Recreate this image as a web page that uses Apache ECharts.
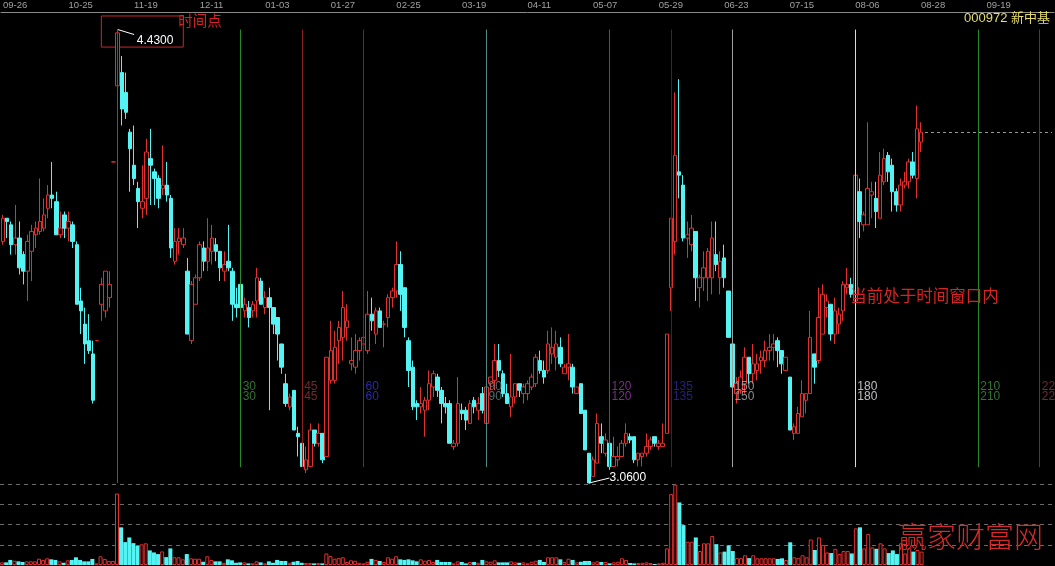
<!DOCTYPE html>
<html>
<head>
<meta charset="utf-8">
<script src="https://cdn.jsdelivr.net/npm/echarts@6/dist/echarts.min.js"></script>
<style>
html,body{margin:0;padding:0;background:#000;}
#chart{width:1055px;height:566px;}
</style>
</head>
<body>
<div id="chart"></div>
<script>
// ---------- DATA ----------
const dateTicks = ['09-26','10-25','11-19','12-11','01-03','01-27','02-25','03-19','04-11','05-07','05-29','06-23','07-15','08-06','08-28','09-19'];
const tickEvery = 16;
const slotCount = 257;

// [open, close, low, high]
const candles = [
[3.79,3.86,3.78,3.87],[3.86,3.85,3.80,3.86],[3.84,3.78,3.75,3.85],[3.78,3.80,3.75,3.90],[3.80,3.71,3.69,3.85],
[3.75,3.70,3.66,3.76],[3.70,3.79,3.61,3.81],[3.76,3.82,3.67,3.84],[3.81,3.83,3.77,3.85],[3.82,3.85,3.81,3.98],
[3.83,3.87,3.82,3.92],[3.89,3.93,3.86,3.96],[3.93,3.92,3.89,4.03],[3.91,3.81,3.81,3.94],[3.81,3.83,3.80,3.88],
[3.87,3.83,3.80,3.88],[3.83,3.85,3.79,3.88],[3.84,3.79,3.77,3.85],[3.78,3.60,3.60,3.79],[3.61,3.58,3.51,3.65],
[3.54,3.48,3.42,3.59],[3.49,3.46,3.45,3.57],[3.45,3.31,3.30,3.49],[3.49,3.49,3.49,3.49],[3.60,3.66,3.55,3.68],
[3.58,3.70,3.56,3.70],[3.62,3.66,3.59,3.70],[4.03,4.03,4.03,4.03],[4.26,4.42,4.26,4.43],[4.30,4.19,4.14,4.35],
[4.24,4.18,4.16,4.30],[4.12,4.07,3.94,4.13],[4.02,3.98,3.96,4.14],[3.95,3.91,3.83,3.97],[3.89,3.91,3.86,4.02],
[3.92,4.06,3.87,4.10],[4.04,4.02,3.90,4.13],[4.00,3.98,3.90,4.01],[3.98,3.92,3.89,3.99],[3.95,3.96,3.93,4.08],
[3.96,3.93,3.91,4.03],[3.92,3.77,3.74,3.93],[3.73,3.79,3.72,3.83],[3.79,3.80,3.75,3.83],[3.78,3.80,3.77,3.83],
[3.70,3.51,3.51,3.74],[3.49,3.66,3.48,3.67],[3.60,3.68,3.60,3.69],[3.68,3.78,3.67,3.79],[3.77,3.73,3.70,3.79],
[3.73,3.77,3.70,3.86],[3.76,3.80,3.72,3.84],[3.78,3.76,3.73,3.80],[3.76,3.71,3.67,3.76],[3.70,3.72,3.67,3.76],
[3.73,3.71,3.70,3.84],[3.70,3.60,3.55,3.71],[3.60,3.59,3.56,3.65],[3.66,3.59,3.56,3.67],[3.58,3.60,3.56,3.62],
[3.59,3.56,3.53,3.61],[3.58,3.60,3.56,3.61],[3.61,3.68,3.56,3.71],[3.67,3.60,3.60,3.68],[3.59,3.62,3.57,3.64],
[3.62,3.59,3.28,3.65],[3.59,3.54,3.51,3.59],[3.56,3.51,3.43,3.56],[3.48,3.41,3.39,3.48],[3.36,3.30,3.29,3.39],
[3.29,3.32,3.28,3.33],[3.34,3.22,3.22,3.34],[3.21,3.20,3.14,3.23],[3.18,3.11,3.11,3.18],[3.10,3.13,3.09,3.17],
[3.11,3.22,3.11,3.24],[3.22,3.18,3.17,3.22],[3.18,3.21,3.17,3.24],[3.21,3.13,3.12,3.21],[3.14,3.44,3.14,3.44],
[3.37,3.46,3.36,3.55],[3.37,3.47,3.36,3.52],[3.49,3.53,3.42,3.55],[3.50,3.59,3.43,3.64],[3.53,3.55,3.49,3.60],
[3.42,3.43,3.40,3.50],[3.41,3.46,3.39,3.51],[3.46,3.49,3.43,3.50],[3.48,3.50,3.43,3.51],[3.46,3.57,3.45,3.64],
[3.57,3.55,3.52,3.62],[3.51,3.58,3.48,3.59],[3.58,3.53,3.53,3.59],[3.54,3.54,3.47,3.55],[3.56,3.62,3.53,3.63],
[3.62,3.64,3.59,3.65],[3.64,3.72,3.62,3.79],[3.72,3.63,3.58,3.76],[3.65,3.53,3.50,3.65],[3.49,3.40,3.35,3.50],
[3.41,3.29,3.28,3.43],[3.30,3.29,3.25,3.31],[3.29,3.30,3.27,3.35],[3.28,3.31,3.20,3.32],[3.31,3.36,3.28,3.40],
[3.35,3.39,3.32,3.40],[3.38,3.34,3.32,3.39],[3.34,3.30,3.24,3.35],[3.30,3.29,3.27,3.32],[3.30,3.18,3.18,3.31],
[3.17,3.18,3.16,3.19],[3.18,3.30,3.17,3.38],[3.28,3.27,3.25,3.30],[3.28,3.25,3.22,3.29],[3.24,3.30,3.24,3.31],
[3.31,3.29,3.27,3.32],[3.28,3.30,3.25,3.32],[3.33,3.28,3.27,3.35],[3.24,3.35,3.24,3.35],[3.36,3.38,3.34,3.38],
[3.37,3.43,3.34,3.48],[3.43,3.40,3.38,3.48],[3.39,3.33,3.32,3.40],[3.33,3.30,3.30,3.36],[3.29,3.32,3.26,3.45],
[3.32,3.36,3.30,3.36],[3.36,3.34,3.32,3.36],[3.33,3.35,3.30,3.36],[3.33,3.36,3.31,3.37],[3.35,3.38,3.34,3.39],
[3.36,3.44,3.35,3.45],[3.43,3.40,3.39,3.46],[3.40,3.38,3.36,3.43],[3.40,3.48,3.39,3.52],[3.45,3.47,3.42,3.53],
[3.44,3.48,3.40,3.52],[3.47,3.42,3.41,3.50],[3.39,3.41,3.39,3.42],[3.41,3.42,3.37,3.51],[3.41,3.35,3.33,3.42],
[3.33,3.35,3.33,3.35],[3.36,3.27,3.27,3.36],[3.28,3.16,3.16,3.28],[3.15,3.06,3.06,3.15],[3.08,3.13,3.08,3.14],
[3.12,3.24,3.12,3.27],[3.20,3.18,3.15,3.24],[3.15,3.19,3.14,3.21],[3.18,3.11,3.10,3.18],[3.11,3.14,3.11,3.20],
[3.13,3.14,3.11,3.17],[3.14,3.18,3.14,3.19],[3.18,3.21,3.17,3.24],[3.20,3.19,3.18,3.21],[3.20,3.13,3.12,3.20],
[3.13,3.15,3.11,3.15],[3.14,3.15,3.11,3.15],[3.15,3.17,3.14,3.21],[3.17,3.19,3.16,3.20],[3.20,3.18,3.17,3.20],
[3.17,3.18,3.16,3.19],[3.17,3.18,3.17,3.24],[3.21,3.51,3.21,3.51],[3.65,3.86,3.58,3.86],[3.79,4.05,3.75,4.24],
[4.00,3.99,3.92,4.28],[3.96,3.80,3.79,3.99],[3.80,3.81,3.74,3.85],[3.78,3.83,3.76,3.87],[3.82,3.68,3.61,3.82],
[3.65,3.68,3.59,3.69],[3.68,3.71,3.64,3.76],[3.68,3.76,3.61,3.77],[3.68,3.80,3.63,3.85],[3.75,3.72,3.70,3.85],
[3.68,3.73,3.63,3.76],[3.74,3.68,3.65,3.78],[3.64,3.50,3.50,3.64],[3.48,3.35,3.30,3.50],[3.33,3.36,3.30,3.38],
[3.34,3.38,3.33,3.40],[3.36,3.44,3.33,3.47],[3.44,3.39,3.36,3.44],[3.39,3.42,3.36,3.48],[3.40,3.42,3.37,3.45],
[3.43,3.44,3.39,3.46],[3.43,3.46,3.41,3.49],[3.46,3.47,3.43,3.51],[3.47,3.48,3.43,3.51],[3.49,3.46,3.41,3.50],
[3.46,3.42,3.39,3.46],[3.40,3.44,3.40,3.44],[3.38,3.22,3.22,3.38],[3.21,3.23,3.19,3.24],[3.21,3.27,3.21,3.29],
[3.26,3.33,3.26,3.37],[3.31,3.33,3.27,3.33],[3.33,3.50,3.33,3.58],[3.45,3.41,3.36,3.45],[3.43,3.56,3.42,3.65],
[3.51,3.63,3.51,3.66],[3.59,3.61,3.56,3.63],[3.60,3.51,3.49,3.60],[3.51,3.58,3.48,3.62],[3.54,3.57,3.51,3.59],
[3.58,3.66,3.55,3.67],[3.65,3.66,3.63,3.71],[3.66,3.63,3.62,3.68],[3.61,3.99,3.59,3.99],[3.94,3.85,3.80,3.98],
[3.84,3.87,3.82,3.88],[3.84,3.95,3.84,4.15],[3.93,3.94,3.86,3.97],[3.92,3.88,3.83,3.97],[3.86,3.99,3.86,4.06],
[3.97,4.04,3.96,4.07],[4.05,4.00,3.97,4.06],[4.02,3.94,3.88,4.04],[3.94,3.90,3.88,3.95],[3.90,3.96,3.88,3.98],
[3.96,3.97,3.95,4.00],[3.97,4.03,3.95,4.04],[4.03,3.99,3.98,4.06],[3.98,4.13,3.92,4.20],[4.09,4.12,4.06,4.15]
];

const volumes = [
1.3,1.3,2.5,2.1,1.8,1.5,1.8,1.8,1.8,3.1,2.5,3.3,2.8,2.5,1.8,1.1,2.3,2.5,3.8,2.5,
1.8,1.8,3.0,0.8,4.3,3.0,2.0,2.0,35.3,18.6,11.3,13.6,10.8,9.4,10.2,10.7,7.2,6.2,5.4,6.7,
3.9,8.2,3.8,3.8,2.8,5.4,3.3,3.1,3.1,1.6,4.3,2.5,1.8,1.8,1.1,2.8,2.3,1.1,1.3,1.3,
0.8,0.8,1.8,1.3,0.8,1.8,1.1,2.5,2.0,2.0,1.1,1.6,2.0,1.1,1.0,1.0,0.8,1.0,0.8,5.7,
4.4,3.1,3.4,3.8,1.5,2.3,2.1,1.1,0.8,1.6,3.0,2.5,2.0,1.5,3.8,3.1,4.3,2.8,2.5,2.8,
2.3,1.8,2.8,2.1,2.5,1.5,2.5,1.5,1.5,1.5,0.8,1.8,1.5,0.8,1.5,1.5,1.1,2.5,1.8,1.6,
2.3,1.3,1.3,1.3,1.8,1.3,1.1,1.3,0.8,1.6,2.1,2.5,1.5,3.8,3.8,3.8,2.8,1.5,3.1,2.5,
1.3,1.6,2.0,2.0,1.3,1.8,1.5,1.5,0.8,1.3,1.6,3.3,2.5,1.0,0.8,1.0,1.1,1.3,1.0,0.5,
0.8,1.1,8.2,35.0,39.7,30.9,19.7,11.5,11.5,13.6,6.9,10.7,10.7,14.3,10.3,6.2,6.6,9.7,6.9,3.4,
3.4,4.8,3.4,4.8,3.3,3.3,3.3,3.3,3.3,3.0,3.3,2.5,11.2,3.8,3.4,4.8,3.8,12.6,7.4,13.6,
9.9,6.2,5.9,8.0,5.4,6.9,6.9,5.7,18.1,18.6,8.2,15.3,8.7,8.0,10.7,8.2,5.9,7.2,5.4,10.7,
5.7,8.2,6.6,7.4,6.6
];

// time window study
const timePointIndex = 28;
const windowOffsets = [30,45,60,90,120,135,150,180,210,225];
const highLabel = '4.4300';
const lowLabel = '3.0600';
const lastClose = 4.12;

// ---------- STYLES ----------
const RED = '#e03030';
const CYAN = '#54f4f4';
const windowLineColors = ['#2a8a2a','#8b2020','#2a2ad0','#4f8a86','#8e2a9e','#20208e','#a0a0a0','#d8d8ec','#2a8a2a','#8b2020'];
const windowTextColors = ['#3f8f3f','#8f3434','#3434d8','#5f8a86','#9a38aa','#2a2a98','#b0b0b0','#e8e8f0','#3f8f3f','#8f3434'];
const lineTop = 4.43, lineBottom = 3.108, labelPrice = 3.335;

const categories = Array.from({length: slotCount}, (_, i) => String(i));

function isUp(i) {
  const [o, c] = candles[i];
  if (c !== o) return c > o;
  return i === 0 || c >= candles[i - 1][1];
}

const volumeData = volumes.map((v, i) => ({
  value: v,
  itemStyle: isUp(i) ? {color: '#000', borderColor: RED, borderWidth: 1} : {color: CYAN, borderColor: CYAN, borderWidth: 0}
}));

const windowLines = windowOffsets.map((d, i) => [
  {coord: [timePointIndex + d, lineTop], lineStyle: {color: windowLineColors[i], width: 1, type: 'solid'}},
  {coord: [timePointIndex + d, lineBottom]}
]);
windowLines.unshift([
  {coord: [timePointIndex, lineTop], lineStyle: {color: '#d02424', width: 1, type: 'solid'}},
  {coord: [timePointIndex, 3.06]}
]);

const windowLabelData = windowOffsets.map((d, i) => ({
  value: [timePointIndex + d, labelPrice],
  label: {color: windowTextColors[i], formatter: d + '\n' + d}
}));

const chart = echarts.init(document.getElementById('chart'), null, {renderer: 'canvas'});
chart.setOption({
  backgroundColor: '#000',
  animation: false,
  title: [
    {text: '000972 新中基', right: 5, top: 12, padding: 0,
     textStyle: {color: '#e8de6a', fontSize: 13, fontWeight: 'normal', fontFamily: 'Liberation Sans, Noto Sans CJK SC'}},
    {text: '赢家财富网', right: 12, top: 522, padding: 0,
     textStyle: {color: '#d42a2a', fontSize: 29, fontWeight: 300, fontFamily: 'Noto Sans CJK SC'}}
  ],
  grid: [
    {left: 0, right: 0, top: 12, height: 471},
    {left: 0, right: 0, top: 484, height: 81}
  ],
  xAxis: [
    {type: 'category', gridIndex: 0, data: categories, position: 'top', boundaryGap: true,
     axisLine: {show: true, lineStyle: {color: '#8a8a8a', width: 1}},
     axisTick: {show: false},
     splitLine: {show: false},
     axisLabel: {
       show: true, margin: 2, align: 'left', color: '#a0a0a0', fontSize: 9.5, fontFamily: 'Liberation Sans',
       interval: (idx) => idx % tickEvery === 0,
       formatter: (val, idx) => (idx % tickEvery === 0 ? (dateTicks[idx / tickEvery] || '') : '')
     }},
    {type: 'category', gridIndex: 1, data: categories, boundaryGap: true, show: false}
  ],
  yAxis: [
    {type: 'value', gridIndex: 0, min: 3.06, max: 4.483, show: false},
    {type: 'value', gridIndex: 1, min: 0, max: 40, interval: 10,
     axisLine: {show: false}, axisTick: {show: false}, axisLabel: {show: false},
     splitLine: {show: true, showMinLine: false, showMaxLine: true, lineStyle: {color: '#6a6a6a', width: 1, type: [4, 4]}}}
  ],
  series: [
    {
      type: 'candlestick', xAxisIndex: 0, yAxisIndex: 0, data: candles, barWidth: 4,
      itemStyle: {color: '#000', color0: CYAN, borderColor: RED, borderColor0: CYAN, borderWidth: 1},
      markArea: {
        silent: true,
        itemStyle: {color: 'rgba(0,0,0,0)', borderColor: '#d02424', borderWidth: 1},
        data: [[{coord: [24, 4.471]}, {coord: [44, 4.377]}]]
      },
      markLine: {
        silent: true, symbol: ['none', 'none'], label: {show: false},
        data: [
          [{coord: [224 + 1, lastClose], lineStyle: {color: '#9a9a9a', width: 1, type: [3, 3]}}, {coord: [slotCount - 1, lastClose]}],
          [{coord: [timePointIndex, 4.43], lineStyle: {color: '#ffffff', width: 1, type: 'solid'}}, {coord: [timePointIndex + 4, 4.415]}],
          [{coord: [143, 3.06], lineStyle: {color: '#ffffff', width: 1, type: 'solid'}}, {coord: [148, 3.075]}]
        ]
      },
      markPoint: {
        silent: true, symbol: 'circle', symbolSize: 0,
        data: [
          {coord: [timePointIndex + 5, 4.395], label: {show: true, position: 'right', distance: -1.5, formatter: highLabel, color: '#ffffff', fontSize: 12, fontFamily: 'Liberation Sans'}},
          {coord: [148, 3.077], label: {show: true, position: 'right', distance: 0, formatter: lowLabel, color: '#ffffff', fontSize: 12, fontFamily: 'Liberation Sans'}},
          {coord: [43, 4.457], label: {show: true, position: 'right', distance: -1, formatter: '时间点', color: '#d42424', fontSize: 14.5, fontFamily: 'Noto Sans CJK SC'}},
          {coord: [207, 3.625], label: {show: true, position: 'right', distance: -1, formatter: '当前处于时间窗口内', color: '#d42424', fontSize: 16.5, fontFamily: 'Noto Sans CJK SC'}}
        ]
      }
    },
    {
      type: 'scatter', xAxisIndex: 0, yAxisIndex: 0, data: windowLabelData, symbolSize: 0, z: 6, silent: true,
      label: {show: true, position: 'right', distance: 2, fontSize: 12, lineHeight: 10, fontFamily: 'Liberation Sans'},
      markLine: {silent: true, symbol: ['none', 'none'], label: {show: false}, data: windowLines}
    },
    {
      type: 'bar', xAxisIndex: 1, yAxisIndex: 1, data: volumeData, barWidth: 4
    }
  ]
});
</script>
</body>
</html>
